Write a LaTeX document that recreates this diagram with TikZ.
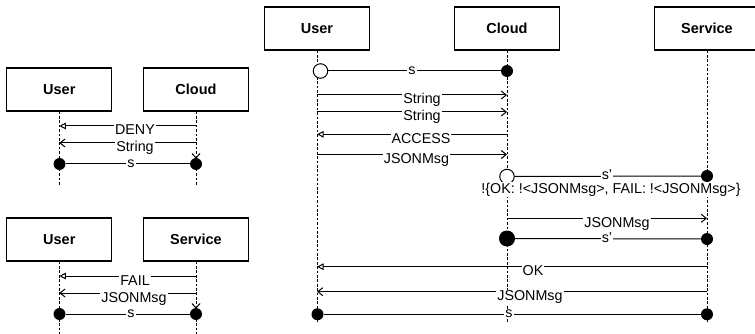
\documentclass[tikz,border=0pt]{standalone}
\usepackage{fontspec}
\setmainfont{Liberation Sans}
\usetikzlibrary{arrows.meta}
\begin{document}
\begin{tikzpicture}[x=1pt,y=-1pt,
  actor/.style={draw, line width=1.2pt, minimum width=105pt, minimum height=43pt, inner sep=0pt, font=\bfseries\fontsize{14.5}{16}\selectfont},
  life/.style={line width=1pt, dash pattern=on 2.7pt off 1.7pt},
  msg/.style={line width=1pt},
  lbl/.style={fill=white, inner sep=1pt, anchor=base, font=\fontsize{14.3}{16}\selectfont},
  vhead/.style={msg, -{Straight Barb[length=5pt,width=8pt]}},
  thead/.style={msg, -{Triangle[open,length=6.5pt,width=6.5pt,fill=white]}},
  dot/.style={circle, fill=black, inner sep=0pt, minimum size=12pt},
  bigdot/.style={circle, fill=black, inner sep=0pt, minimum size=16pt},
  odot/.style={circle, draw, fill=white, line width=1pt, inner sep=0pt, minimum size=14.5pt}
]
\clip (0,0) rectangle (755,334);
% ---------- left top ----------
\node[actor] (ua) at (59.3,89.5) {User};
\node[actor] (ca) at (196,89.5) {Cloud};
\coordinate (uae) at (59.3,186);
\coordinate (cae) at (196,186);
\draw[life] (ua.south) -- (uae);
\draw[life] (ca.south) -- (cae);
\coordinate (a1s) at (196,126); \coordinate (a1e) at (59.3,126);
\coordinate (a2s) at (196,143); \coordinate (a2e) at (59.3,143);
\draw[thead] (a1s) -- (a1e);
\draw[vhead] (a2s) -- (a2e);
\node[dot] (da1) at (59.5,164) {};
\node[dot] (da2) at (196,164) {};
\draw[msg] (da1) -- (da2);
\draw[msg] ([shift={(-4,-10.5)}]da2.center) -- ([shift={(0,-6)}]da2.center) -- ([shift={(4,-10.5)}]da2.center);
\node[lbl] (la1) at (135,135) {DENY};
\node[lbl] (la2) at (135,152) {String};
\node[lbl] (la3) at (131,167.5) {s};
% ---------- left bottom ----------
\node[actor] (ub) at (59.3,239.5) {User};
\node[actor] (sb) at (196,239.5) {Service};
\coordinate (ube) at (59.3,336);
\coordinate (sbe) at (196,336);
\draw[life] (ub.south) -- (ube);
\draw[life] (sb.south) -- (sbe);
\coordinate (b1s) at (196,276); \coordinate (b1e) at (59.3,276);
\coordinate (b2s) at (196,293); \coordinate (b2e) at (59.3,293);
\draw[thead] (b1s) -- (b1e);
\draw[vhead] (b2s) -- (b2e);
\node[dot] (db1) at (59.5,314) {};
\node[dot] (db2) at (196,314) {};
\draw[msg] (db1) -- (db2);
\draw[msg] ([shift={(-4,-10.5)}]db2.center) -- ([shift={(0,-6)}]db2.center) -- ([shift={(4,-10.5)}]db2.center);
\node[lbl] (lb1) at (135,285) {FAIL};
\node[lbl] (lb2) at (134,302) {JSONMsg};
\node[lbl] (lb3) at (131,317.5) {s};
% ---------- big ----------
\node[actor] (U) at (317,28.5) {User};
\node[actor] (C) at (507,28.5) {Cloud};
\node[actor] (S) at (707,28.5) {Service};
\coordinate (Ue) at (317,323);
\coordinate (Ce) at (507,323);
\coordinate (Se) at (707,323);
\draw[life] (U.south) -- (Ue);
\draw[life] (C.south) -- (Ce);
\draw[life] (S.south) -- (Se);
% s
\node[odot] (o1) at (320.5,71) {};
\node[dot] (f1) at (507,71) {};
\draw[msg] (o1) -- (f1);
% messages user-cloud
\coordinate (m1a) at (317,95);   \coordinate (m1b) at (507,95);
\coordinate (m2a) at (317,112);  \coordinate (m2b) at (507,112);
\coordinate (m3a) at (507,134.3);\coordinate (m3b) at (317,134.3);
\coordinate (m4a) at (317,154.5);\coordinate (m4b) at (507,154.5);
\draw[vhead] (m1a) -- (m1b);
\draw[vhead] (m2a) -- (m2b);
\draw[thead] (m3a) -- (m3b);
\draw[vhead] (m4a) -- (m4b);
% s'
\node[odot] (o2) at (507,176.5) {};
\node[dot] (f2) at (707,176) {};
\draw[msg] (o2) -- (f2);
\coordinate (m5a) at (507,218.3); \coordinate (m5b) at (707,218.3);
\draw[vhead] (m5a) -- (m5b);
\node[bigdot] (f3) at (507,238.5) {};
\node[dot] (f4) at (707,239) {};
\draw[msg] (f3) -- (f4);
\coordinate (m6a) at (707,266.7); \coordinate (m6b) at (317,266.7);
\coordinate (m7a) at (707,291.7); \coordinate (m7b) at (317,291.7);
\draw[thead] (m6a) -- (m6b);
\draw[vhead] (m7a) -- (m7b);
\node[dot] (f5) at (317.5,314.3) {};
\node[dot] (f6) at (707,314.3) {};
\draw[msg] (f5) -- (f6);
% labels
\node[lbl] (L1) at (412,74.5) {s};
\node[lbl] (L2) at (422,104) {String};
\node[lbl] (L3) at (422,121) {String};
\node[lbl] (L4) at (421,143.3) {ACCESS};
\node[lbl] (L5) at (416.5,163.5) {JSONMsg};
\node[lbl] (L6) at (607,179) {s'};
\node[lbl] (L7) at (611,193.3) {!\{OK: !<JSONMsg>, FAIL: !<JSONMsg>\}};
\node[lbl] (L8) at (617,227.3) {JSONMsg};
\node[lbl] (L9) at (607,242) {s'};
\node[lbl] (L10) at (533,275.7) {OK};
\node[lbl] (L11) at (530,300.7) {JSONMsg};
\node[lbl] (L12) at (509,317.8) {s};
\end{tikzpicture}
\end{document}
